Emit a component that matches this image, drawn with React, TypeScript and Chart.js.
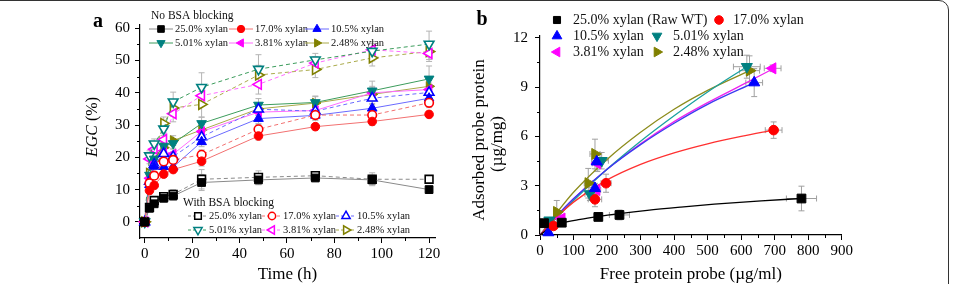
import React, { useEffect, useRef } from 'react';
import { Chart, registerables } from 'chart.js';
import { drawPoint } from 'chart.js/helpers';

Chart.register(...registerables);

const SERIF = '"Liberation Serif", "Times New Roman", Times, serif';

// ---------- Panel a: EGC (%) versus time ----------
const TIMES = [0, 2, 4, 8, 12, 24, 48, 72, 96, 120];
const A_X_TICKS = [0, 20, 40, 60, 80, 100, 120];
const A_X_MINOR = [10, 30, 50, 70, 90, 110];
const A_Y_TICKS = [0, 10, 20, 30, 40, 50, 60];
const A_Y_MINOR = [5, 15, 25, 35, 45, 55];

const XYLAN = ['25.0% xylan', '17.0% xylan', '10.5% xylan', '5.01% xylan', '3.81% xylan', '2.48% xylan'];

// No BSA blocking (filled symbols)
const EGC_25_NO = [0, 4.2, 5.6, 7.3, 8.0, 12.2, 13.0, 13.6, 13.0, 10.0];
const EGC_17_NO = [0, 9.7, 11.3, 14.8, 16.2, 18.8, 26.6, 29.5, 31.1, 33.3];
const EGC_105_NO = [0, 11.5, 17.2, 17.1, 17.0, 24.8, 32.0, 33.0, 35.2, 38.3];
const EGC_501_NO = [0, 14.5, 19.5, 23.5, 24.3, 30.5, 36.2, 37.0, 40.6, 44.3];
const EGC_381_NO = [0, 13.5, 18.5, 22.0, 21.0, 28.0, 34.0, 34.5, 40.0, 41.0];
const EGC_248_NO = [0, 14.0, 19.0, 23.0, 25.2, 28.5, 35.0, 36.8, 39.5, 42.0];

// With BSA blocking (open symbols)
const EGC_25_BSA = [0, 4.5, 6.6, 7.8, 8.5, 13.2, 13.8, 14.3, 13.2, 13.2];
const EGC_17_BSA = [0, 12.0, 14.3, 18.7, 19.2, 20.8, 28.7, 33.1, 33.1, 36.9];
const EGC_105_BSA = [0, 12.5, 17.8, 21.1, 20.2, 26.3, 34.9, 34.3, 38.3, 40.1];
const EGC_501_BSA = [0, 20.5, 24.2, 28.8, 37.2, 41.7, 47.3, 50.2, 52.9, 55.1];
const EGC_381_BSA = [0, 19.5, 22.5, 25.5, 33.5, 39.1, 42.6, 49.2, 53.3, 52.2];
const EGC_248_BSA = [0, 15.0, 21.0, 30.5, 35.3, 36.4, 45.5, 47.2, 50.8, 52.8];

// standard deviations
const SD_25_NO = [0, 0.5, 0.8, 0.8, 1.2, 2.5, 1.5, 1.0, 1.5, 0.8];
const SD_17_NO = [0, 1.0, 1.0, 1.0, 1.0, 1.5, 1.2, 1.0, 1.2, 1.0];
const SD_105_NO = [0, 1.0, 1.0, 1.0, 1.0, 1.5, 1.5, 1.5, 1.5, 1.5];
const SD_501_NO = [0, 1.0, 1.0, 1.5, 1.5, 2.0, 2.0, 2.0, 3.0, 4.0];
const SD_381_NO = [0, 1.0, 1.0, 1.5, 1.5, 2.0, 2.0, 2.0, 2.0, 2.0];
const SD_248_NO = [0, 1.0, 1.0, 1.5, 1.5, 2.0, 2.0, 2.0, 2.0, 2.0];
const SD_25_BSA = [0, 0.5, 0.8, 0.8, 1.5, 3.0, 2.0, 1.2, 2.0, 0.8];
const SD_17_BSA = [0, 1.0, 1.0, 1.2, 1.2, 1.5, 1.5, 1.5, 1.5, 1.5];
const SD_105_BSA = [0, 1.0, 1.0, 1.2, 1.5, 2.0, 2.0, 1.5, 2.0, 2.0];
const SD_501_BSA = [0, 1.5, 1.5, 2.0, 3.0, 4.5, 4.5, 2.0, 3.0, 4.0];
const SD_381_BSA = [0, 1.5, 1.5, 2.0, 2.5, 3.0, 3.0, 2.0, 2.0, 2.5];
const SD_248_BSA = [0, 1.5, 1.5, 2.0, 2.5, 4.0, 3.0, 2.5, 2.5, 2.5];

// ---------- Panel b: adsorption isotherms ----------
const B_X_TICKS = [0, 100, 200, 300, 400, 500, 600, 700, 800, 900];
const B_X_MINOR = [50, 150, 250, 350, 450, 550, 650, 750, 850];
const B_Y_TICKS = [0, 3, 6, 9, 12];
const B_Y_MINOR = [1.5, 4.5, 7.5, 10.5];

const B_LABELS = ['25.0% xylan (Raw WT)', '17.0% xylan', '10.5% xylan', '5.01% xylan', '3.81% xylan', '2.48% xylan'];

// free probe (µg/ml), adsorbed probe (µg/mg), and their errors
const FREE_25 = [12, 65, 174, 237, 780];
const ADS_25 = [0.72, 0.75, 1.1, 1.22, 2.22];
const FREE_ERR_25 = [4, 8, 12, 30, 45];
const ADS_ERR_25 = [0.1, 0.15, 0.15, 0.3, 0.75];

const FREE_17 = [40, 164, 197, 697];
const ADS_17 = [0.55, 2.17, 3.15, 6.38];
const FREE_ERR_17 = [8, 20, 15, 25];
const ADS_ERR_17 = [0.2, 0.45, 0.55, 0.5];

const FREE_105 = [25, 164, 169, 639];
const ADS_105 = [0.15, 2.84, 4.46, 9.27];
const FREE_ERR_105 = [6, 10, 15, 25];
const ADS_ERR_105 = [0.1, 0.3, 0.5, 0.85];

const FREE_501 = [28, 149, 184, 617];
const ADS_501 = [0.9, 2.5, 4.52, 10.24];
const FREE_ERR_501 = [6, 15, 20, 40];
const ADS_ERR_501 = [0.15, 0.4, 0.5, 0.7];

const FREE_381 = [65, 169, 171, 694];
const ADS_381 = [1.0, 2.74, 4.36, 10.14];
const FREE_ERR_381 = [8, 12, 15, 25];
const ADS_ERR_381 = [0.2, 0.3, 0.5, 0.2];

const FREE_248 = [50, 144, 164, 625];
const ADS_248 = [1.4, 3.15, 4.93, 10.0];
const FREE_ERR_248 = [8, 12, 15, 30];
const ADS_ERR_248 = [0.7, 0.9, 0.9, 0.9];

// fitted isotherm curves
const FIT_X_25 = [0, 30, 65, 120, 172, 237, 320, 420, 520, 660, 780];
const FIT_Y_25 = [0, 0.45, 0.72, 0.95, 1.12, 1.3, 1.5, 1.7, 1.88, 2.08, 2.22];
const FIT_X_17 = [0, 50, 100, 200, 300, 400, 500, 600, 697];
const FIT_Y_17 = [0, 1.1, 2.0, 3.35, 4.3, 5.0, 5.55, 6.0, 6.38];
const FIT_X_105 = [0, 50, 100, 200, 300, 400, 500, 639];
const FIT_Y_105 = [0, 1.15, 2.2, 4.0, 5.5, 6.8, 7.95, 9.27];
const FIT_X_501 = [0, 50, 100, 200, 300, 400, 500, 617];
const FIT_Y_501 = [0, 1.05, 2.1, 4.0, 5.7, 7.25, 8.7, 10.24];
const FIT_X_381 = [0, 50, 100, 200, 300, 400, 500, 600, 694];
const FIT_Y_381 = [0, 1.15, 2.2, 4.0, 5.55, 6.9, 8.05, 9.1, 10.1];
const FIT_X_248 = [0, 50, 100, 200, 300, 400, 500, 625];
const FIT_Y_248 = [0, 1.35, 2.6, 4.6, 6.25, 7.65, 8.8, 10.0];

// ---------- styles ----------
const STYLES = [
  { marker: '#000000', line: '#8a8a8a', fit: '#000000', shape: 'rect', rot: 0, rA: 5.5, rB: 6.2 },
  { marker: '#ff0000', line: '#f27070', fit: '#ff3030', shape: 'circle', rot: 0, rA: 4.3, rB: 4.8 },
  { marker: '#0000ff', line: '#6a6aff', fit: '#3a3af0', shape: 'triangle', rot: 0, rA: 5.6, rB: 6.4 },
  { marker: '#008080', line: '#3c9c5c', fit: '#1aa0a0', shape: 'triangle', rot: 180, rA: 5.6, rB: 6.4 },
  { marker: '#ff00ff', line: '#ff6cff', fit: '#ee22ee', shape: 'triangle', rot: 270, rA: 5.6, rB: 6.4 },
  { marker: '#808000', line: '#aaaa4a', fit: '#8c8c1c', shape: 'triangle', rot: 90, rA: 5.6, rB: 6.4 },
];

const A_GROUPS = [
  { no: EGC_25_NO, bsa: EGC_25_BSA, sdNo: SD_25_NO, sdBsa: SD_25_BSA },
  { no: EGC_17_NO, bsa: EGC_17_BSA, sdNo: SD_17_NO, sdBsa: SD_17_BSA },
  { no: EGC_105_NO, bsa: EGC_105_BSA, sdNo: SD_105_NO, sdBsa: SD_105_BSA },
  { no: EGC_501_NO, bsa: EGC_501_BSA, sdNo: SD_501_NO, sdBsa: SD_501_BSA },
  { no: EGC_381_NO, bsa: EGC_381_BSA, sdNo: SD_381_NO, sdBsa: SD_381_BSA },
  { no: EGC_248_NO, bsa: EGC_248_BSA, sdNo: SD_248_NO, sdBsa: SD_248_BSA },
];

const B_GROUPS = [
  { x: FREE_25, y: ADS_25, ex: FREE_ERR_25, ey: ADS_ERR_25, fx: FIT_X_25, fy: FIT_Y_25 },
  { x: FREE_17, y: ADS_17, ex: FREE_ERR_17, ey: ADS_ERR_17, fx: FIT_X_17, fy: FIT_Y_17 },
  { x: FREE_105, y: ADS_105, ex: FREE_ERR_105, ey: ADS_ERR_105, fx: FIT_X_105, fy: FIT_Y_105 },
  { x: FREE_501, y: ADS_501, ex: FREE_ERR_501, ey: ADS_ERR_501, fx: FIT_X_501, fy: FIT_Y_501 },
  { x: FREE_381, y: ADS_381, ex: FREE_ERR_381, ey: ADS_ERR_381, fx: FIT_X_381, fy: FIT_Y_381 },
  { x: FREE_248, y: ADS_248, ex: FREE_ERR_248, ey: ADS_ERR_248, fx: FIT_X_248, fy: FIT_Y_248 },
];

// ---------- plugins ----------
const errorBars = {
  id: 'errorBars',
  beforeDatasetsDraw(chart: any) {
    const { ctx } = chart;
    const xs = chart.scales.x;
    const ys = chart.scales.y;
    ctx.save();
    chart.data.datasets.forEach((ds: any) => {
      if (!ds.errY && !ds.errX) return;
      ctx.strokeStyle = ds.errColor || '#aaaaaa';
      ctx.lineWidth = 1;
      ds.data.forEach((p: any, j: number) => {
        const px = xs.getPixelForValue(p.x);
        const py = ys.getPixelForValue(p.y);
        const ey = ds.errY ? ds.errY[j] : 0;
        const ex = ds.errX ? ds.errX[j] : 0;
        const cap = 3;
        ctx.beginPath();
        if (ey > 0) {
          const t = ys.getPixelForValue(p.y + ey);
          const b = ys.getPixelForValue(p.y - ey);
          ctx.moveTo(px, t); ctx.lineTo(px, b);
          ctx.moveTo(px - cap, t); ctx.lineTo(px + cap, t);
          ctx.moveTo(px - cap, b); ctx.lineTo(px + cap, b);
        }
        if (ex > 0) {
          const l = xs.getPixelForValue(p.x - ex);
          const r = xs.getPixelForValue(p.x + ex);
          ctx.moveTo(l, py); ctx.lineTo(r, py);
          ctx.moveTo(l, py - cap); ctx.lineTo(l, py + cap);
          ctx.moveTo(r, py - cap); ctx.lineTo(r, py + cap);
        }
        ctx.stroke();
      });
    });
    ctx.restore();
  },
};

function drawMinorTicks(chart: any, xMinor: number[], yMinor: number[], len: number) {
  const { ctx } = chart;
  const xs = chart.scales.x;
  const ys = chart.scales.y;
  const { left, bottom } = chart.chartArea;
  ctx.save();
  ctx.strokeStyle = '#000';
  ctx.lineWidth = 1;
  ctx.beginPath();
  xMinor.forEach((v) => {
    const x = Math.round(xs.getPixelForValue(v)) + 0.5;
    ctx.moveTo(x, bottom); ctx.lineTo(x, bottom + len);
  });
  yMinor.forEach((v) => {
    const y = Math.round(ys.getPixelForValue(v)) + 0.5;
    ctx.moveTo(left, y); ctx.lineTo(left - len, y);
  });
  ctx.stroke();
  ctx.restore();
}

function legendEntry(ctx: any, x: number, y: number, st: any, filled: boolean, lineHalf: number | null,
  dashed: boolean, radius: number, label: string, textGap: number, font: string) {
  if (lineHalf) {
    ctx.save();
    ctx.strokeStyle = st.line;
    ctx.lineWidth = 1;
    ctx.setLineDash(dashed ? [3, 2] : []);
    ctx.beginPath();
    ctx.moveTo(x - lineHalf, y); ctx.lineTo(x + lineHalf, y);
    ctx.stroke();
    ctx.restore();
  }
  ctx.save();
  ctx.fillStyle = filled ? st.marker : '#ffffff';
  ctx.strokeStyle = st.marker;
  ctx.lineWidth = filled ? 1 : 1.5;
  drawPoint(ctx, { pointStyle: st.shape, rotation: st.rot, radius, borderWidth: filled ? 1 : 1.5 } as any, x, y);
  ctx.restore();
  ctx.save();
  ctx.fillStyle = '#111';
  ctx.font = font;
  ctx.textAlign = 'left';
  ctx.textBaseline = 'middle';
  ctx.fillText(label, x + textGap, y + 0.5);
  ctx.restore();
}

const panelADecor = {
  id: 'panelADecor',
  afterDraw(chart: any) {
    const { ctx, chartArea } = chart;
    drawMinorTicks(chart, A_X_MINOR, A_Y_MINOR, 3);
    ctx.save();
    ctx.fillStyle = '#000';
    ctx.textBaseline = 'middle';
    ctx.textAlign = 'center';
    ctx.font = `bold 20px ${SERIF}`;
    ctx.fillText('a', 98, 22);
    ctx.font = `17px ${SERIF}`;
    ctx.fillText('Time (h)', (chartArea.left + chartArea.right) / 2, 275);

    // y title with italic EGC
    ctx.translate(93, 127);
    ctx.rotate(-Math.PI / 2);
    const it = `italic 16px ${SERIF}`;
    const nm = `16px ${SERIF}`;
    ctx.font = it;
    const w1 = ctx.measureText('EGC').width;
    ctx.font = nm;
    const w2 = ctx.measureText(' (%)').width;
    const x0 = -(w1 + w2) / 2;
    ctx.textAlign = 'left';
    ctx.font = it;
    ctx.fillText('EGC', x0, 0);
    ctx.font = nm;
    ctx.fillText(' (%)', x0 + w1, 0);
    ctx.restore();

    // legend: No BSA blocking
    const entryFont = `10.5px ${SERIF}`;
    ctx.save();
    ctx.fillStyle = '#111';
    ctx.font = `11.5px ${SERIF}`;
    ctx.textBaseline = 'middle';
    ctx.textAlign = 'left';
    ctx.fillText('No BSA blocking', 151, 16);
    ctx.fillText('With BSA blocking', 183, 203);
    ctx.restore();
    const topX = [161, 241, 317];
    const botX = [198, 272, 346];
    for (let i = 0; i < 6; i++) {
      const col = i % 3;
      const row = Math.floor(i / 3);
      legendEntry(ctx, topX[col], 29 + row * 14, STYLES[i], true, 12, false, STYLES[i].rA * 0.85, XYLAN[i], 14, entryFont);
      legendEntry(ctx, botX[col], 216 + row * 14, STYLES[i], false, 10, true, STYLES[i].rA * 0.85, XYLAN[i], 11, entryFont);
    }
  },
};

const panelBDecor = {
  id: 'panelBDecor',
  afterDraw(chart: any) {
    const { ctx, chartArea } = chart;
    drawMinorTicks(chart, B_X_MINOR, B_Y_MINOR, 3);
    ctx.save();
    ctx.fillStyle = '#000';
    ctx.textBaseline = 'middle';
    ctx.textAlign = 'center';
    ctx.font = `bold 20px ${SERIF}`;
    ctx.fillText('b', 22, 20);
    ctx.font = `17px ${SERIF}`;
    ctx.fillText('Free protein probe (\u00b5g/ml)', (chartArea.left + chartArea.right) / 2, 275);
    ctx.translate(20, 140);
    ctx.rotate(-Math.PI / 2);
    ctx.fillText('Adsorbed probe protein', 0, 0);
    ctx.fillText('(\u00b5g/mg)', -4, 18);
    ctx.restore();

    const font = `14px ${SERIF}`;
    legendEntry(ctx, 97, 20, STYLES[0], true, null, false, 5, B_LABELS[0], 16, font);
    legendEntry(ctx, 259, 20, STYLES[1], true, null, false, 4.3, B_LABELS[1], 14, font);
    legendEntry(ctx, 97, 36, STYLES[2], true, null, false, 5.6, B_LABELS[2], 16, font);
    legendEntry(ctx, 197, 36, STYLES[3], true, null, false, 5.6, B_LABELS[3], 16, font);
    legendEntry(ctx, 97, 52, STYLES[4], true, null, false, 5.6, B_LABELS[4], 16, font);
    legendEntry(ctx, 197, 52, STYLES[5], true, null, false, 5.6, B_LABELS[5], 16, font);
  },
};

function axisOptions(ticks: number[], min: number, max: number, size: number, horizontal: boolean, pad: number) {
  return {
    type: 'linear',
    min,
    max,
    afterBuildTicks: (s: any) => { s.ticks = ticks.map((v) => ({ value: v })); },
    afterFit: (s: any) => { if (horizontal) s.height = size; else s.width = size; },
    grid: { drawOnChartArea: false, drawTicks: true, tickLength: 5, color: '#000', tickColor: '#000', lineWidth: 1 },
    border: { display: true, color: '#000', width: 1.2 },
    ticks: {
      color: '#000',
      font: { family: SERIF, size: 15 },
      padding: pad,
      maxRotation: 0,
      autoSkip: false,
      callback: (v: any) => String(v),
    },
  };
}

function buildPanelA() {
  const datasets: any[] = [];
  A_GROUPS.forEach((g, i) => {
    const st = STYLES[i];
    datasets.push({
      label: `No BSA ${XYLAN[i]}`,
      data: TIMES.map((t, j) => ({ x: t, y: g.no[j] })),
      errY: g.sdNo,
      errColor: '#b4b4b4',
      borderColor: st.line,
      backgroundColor: st.marker,
      borderWidth: 1,
      tension: 0,
      pointStyle: st.shape,
      pointRotation: st.rot,
      pointRadius: st.rA,
      pointBackgroundColor: st.marker,
      pointBorderColor: st.marker,
      pointBorderWidth: 1,
      clip: false,
    });
    datasets.push({
      label: `With BSA ${XYLAN[i]}`,
      data: TIMES.map((t, j) => ({ x: t, y: g.bsa[j] })),
      errY: g.sdBsa,
      errColor: '#b4b4b4',
      borderColor: st.line,
      backgroundColor: '#ffffff',
      borderWidth: 1,
      borderDash: [4, 3],
      tension: 0,
      pointStyle: st.shape,
      pointRotation: st.rot,
      pointRadius: st.rA,
      pointBackgroundColor: '#ffffff',
      pointBorderColor: st.marker,
      pointBorderWidth: 1.6,
      clip: false,
    });
  });
  return datasets;
}

function buildPanelB() {
  const datasets: any[] = [];
  B_GROUPS.forEach((g, i) => {
    const st = STYLES[i];
    datasets.push({
      label: `${B_LABELS[i]} points`,
      data: g.x.map((x, j) => ({ x, y: g.y[j] })),
      errX: g.ex,
      errY: g.ey,
      errColor: '#a0a0a0',
      showLine: false,
      pointStyle: st.shape,
      pointRotation: st.rot,
      pointRadius: st.rB,
      pointBackgroundColor: st.marker,
      pointBorderColor: st.marker,
      pointBorderWidth: 1,
      clip: false,
    });
  });
  B_GROUPS.forEach((g, i) => {
    const st = STYLES[i];
    datasets.push({
      label: `${B_LABELS[i]} fit`,
      data: g.fx.map((x, j) => ({ x, y: g.fy[j] })),
      borderColor: st.fit,
      borderWidth: 1.3,
      pointRadius: 0,
      cubicInterpolationMode: 'monotone',
      clip: false,
    });
  });
  return datasets;
}

export default function App() {
  const refA = useRef<HTMLCanvasElement>(null);
  const refB = useRef<HTMLCanvasElement>(null);

  useEffect(() => {
    const chartA = new Chart(refA.current as HTMLCanvasElement, {
      type: 'line',
      data: { datasets: buildPanelA() },
      options: {
        animation: false,
        responsive: false,
        maintainAspectRatio: false,
        devicePixelRatio: 1,
        layout: { padding: { top: 25, right: 25, left: 0, bottom: 0 } },
        plugins: { legend: { display: false }, tooltip: { enabled: false } },
        scales: {
          x: axisOptions(A_X_TICKS, -2, 122.5, 46, true, 2) as any,
          y: axisOptions(A_Y_TICKS, -5, 61, 140, false, 5) as any,
        },
      },
      plugins: [errorBars, panelADecor],
    });
    const chartB = new Chart(refB.current as HTMLCanvasElement, {
      type: 'line',
      data: { datasets: buildPanelB() },
      options: {
        animation: false,
        responsive: false,
        maintainAspectRatio: false,
        devicePixelRatio: 1,
        layout: { padding: { top: 35.3, right: 111.3, left: 0, bottom: 0 } },
        plugins: { legend: { display: false }, tooltip: { enabled: false } },
        scales: {
          x: axisOptions(B_X_TICKS, 0, 900, 49, true, 2) as any,
          y: axisOptions(B_Y_TICKS, 0, 12.15, 80, false, 7) as any,
        },
      },
      plugins: [errorBars, panelBDecor],
    });
    return () => {
      chartA.destroy();
      chartB.destroy();
    };
  }, []);

  return (
    <div style={{ position: 'fixed', left: 0, top: 0, width: 953, height: 284, background: '#fff', overflow: 'hidden' }}>
      <canvas ref={refA} width={460} height={284} style={{ position: 'absolute', left: 0, top: 0 }} />
      <canvas ref={refB} width={493} height={284} style={{ position: 'absolute', left: 460, top: 0 }} />
      <div style={{ position: 'absolute', left: -20, top: 0, width: 969, height: 320, border: '1.5px solid #333', borderRadius: 10, boxSizing: 'border-box', pointerEvents: 'none' }} />
    </div>
  );
}
